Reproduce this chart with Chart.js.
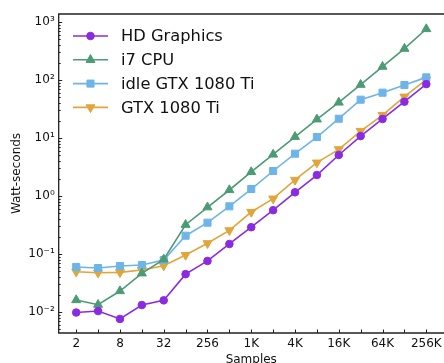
<!DOCTYPE html>
<html>
<head>
<meta charset="utf-8">
<script src="https://cdn.jsdelivr.net/npm/chart.js@4/dist/chart.umd.min.js"></script>
<style>
html,body{margin:0;padding:0;overflow:hidden;background:#fff;width:444px;height:363px;}
#c{display:block;}
</style>
</head>
<body>
<canvas id="c" width="450" height="372" style="width:450px;height:372px"></canvas>
<script>
const xLabels = ['2','4','8','16','32','128','256','512','1K','2K','4K','8K','16K','32K','64K','128K','256K'];
const shownLabels = ['2','8','32','256','1K','4K','16K','64K','256K'];
const hdGraphics = [0.0098, 0.0104, 0.0076, 0.0132, 0.0159, 0.045, 0.076, 0.149, 0.29, 0.57, 1.16, 2.3, 5.1, 10.8, 21.3, 42.3, 85];
const i7CPU = [0.0161, 0.0134, 0.023, 0.0465, 0.081, 0.32, 0.64, 1.27, 2.6, 5.2, 10.5, 21, 41, 83, 170, 347, 757];
const idleGTX = [0.0597, 0.0574, 0.062, 0.0646, 0.0788, 0.207, 0.347, 0.664, 1.32, 2.7, 5.37, 10.4, 21.5, 45.8, 60.5, 82, 111];
const gtx1080 = [0.0496, 0.0476, 0.0483, 0.053, 0.063, 0.096, 0.153, 0.256, 0.53, 0.90, 1.89, 3.76, 6.38, 13.2, 24.9, 51.6, 102];
const seriesNames = ['HD Graphics', 'i7 CPU', 'idle GTX 1080 Ti', 'GTX 1080 Ti'];
const yDecades = [-2, -1, 0, 1, 2, 3];

const FONT = "'DejaVu Sans', sans-serif";
const supMap = {'0':'⁰','1':'¹','2':'²','3':'³','4':'⁴','5':'⁵','6':'⁶','7':'⁷','8':'⁸','9':'⁹','-':'⁻'};
function sup(n){ return String(n).split('').map(c => supMap[c]).join(''); }

function pts(arr){ return arr.map((v,i)=>({x:i, y:v})); }

const styles = [
  {color:'#8a2be2', pointStyle:'circle', r:3.8, rot:0},
  {color:'#4b9b74', pointStyle:'triangle', r:5.2, rot:0},
  {color:'#6db5e8', pointStyle:'rect', r:5, rot:0},
  {color:'#e2a53c', pointStyle:'triangle', r:5.2, rot:180}
];
const allData = [hdGraphics, i7CPU, idleGTX, gtx1080];

const datasets = allData.map((d, k) => ({
  label: seriesNames[k],
  data: pts(d),
  borderColor: styles[k].color,
  backgroundColor: styles[k].color,
  pointBackgroundColor: styles[k].color,
  pointBorderColor: styles[k].color,
  borderWidth: 1.6,
  pointStyle: styles[k].pointStyle,
  pointRadius: styles[k].r,
  pointRotation: styles[k].rot,
  pointBorderWidth: 1,
  tension: 0,
  fill: false
}));

const frameAndTicks = {
  id: 'frameAndTicks',
  afterDraw(chart) {
    const ctx = chart.ctx;
    const a = chart.chartArea;
    const xs = chart.scales.x, ys = chart.scales.y;
    ctx.save();
    ctx.strokeStyle = '#222';
    ctx.lineWidth = 1;
    ctx.beginPath();
    xs.ticks.forEach(t => {
      const px = Math.round(xs.getPixelForValue(t.value)) + 0.5;
      ctx.moveTo(px, a.bottom);
      ctx.lineTo(px, a.bottom - 3.5);
    });
    ys.ticks.forEach(t => {
      const v = t.value;
      const lg = Math.log10(v);
      const major = Math.abs(lg - Math.round(lg)) < 1e-9;
      const py = Math.round(ys.getPixelForValue(v)) + 0.5;
      ctx.moveTo(a.left, py);
      ctx.lineTo(a.left + (major ? 3.5 : 2), py);
    });
    ctx.stroke();
    // frame: left, top, bottom (right spine lies outside the view)
    ctx.lineWidth = 1.3;
    ctx.strokeStyle = '#222';
    ctx.beginPath();
    ctx.moveTo(a.right + 5, a.top);
    ctx.lineTo(a.left, a.top);
    ctx.lineTo(a.left, a.bottom);
    ctx.lineTo(a.right + 5, a.bottom);
    ctx.stroke();
    // legend
    const lx0 = 73, lx1 = 108, tx = 121;
    chart.data.datasets.forEach((ds, k) => {
      const y = 36 + k * 23.8;
      ctx.strokeStyle = ds.borderColor;
      ctx.lineWidth = ds.borderWidth;
      ctx.beginPath();
      ctx.moveTo(lx0, y); ctx.lineTo(lx1, y); ctx.stroke();
      ctx.fillStyle = ds.borderColor;
      ctx.strokeStyle = ds.borderColor;
      ctx.lineWidth = 1;
      const opts = {pointStyle: ds.pointStyle, radius: ds.pointRadius, rotation: ds.pointRotation, borderWidth: 1};
      Chart.helpers.drawPoint(ctx, opts, (lx0 + lx1) / 2, y);
      ctx.fillStyle = '#111';
      ctx.font = '16.3px ' + FONT;
      ctx.textBaseline = 'middle';
      ctx.textAlign = 'left';
      ctx.fillText(ds.label, tx, y + 1);
    });
    ctx.restore();
  }
};

new Chart(document.getElementById('c'), {
  type: 'line',
  data: { datasets },
  options: {
    responsive: false,
    animation: false,
    devicePixelRatio: 1,
    layout: { padding: { left: 0, top: 14, right: 5.4, bottom: 0 } },
    plugins: { legend: { display: false }, tooltip: { enabled: false } },
    scales: {
      x: {
        type: 'linear',
        min: -0.8, max: 16.8,
        afterFit(s) { s.height = 39; },
        afterBuildTicks(s) { s.ticks = xLabels.map((_, i) => ({ value: i })); },
        grid: { display: false, drawTicks: false },
        border: { display: false },
        ticks: {
          autoSkip: false, maxRotation: 0, padding: 4, color: '#111',
          font: { family: FONT, size: 12 },
          callback: (v) => { const l = xLabels[v]; return shownLabels.includes(l) ? l : ''; }
        },
        title: { display: true, text: 'Samples', color: '#111', font: { family: FONT, size: 12 }, padding: { top: 0, bottom: 5 } }
      },
      y: {
        type: 'logarithmic',
        min: 0.00435, max: 1374,
        afterFit(s) { s.width = 58.7; },
        afterBuildTicks(s) {
          const t = [];
          for (let n = -3; n <= 3; n++) for (let k = 1; k <= 9; k++) {
            const v = k * Math.pow(10, n);
            if (v >= s.min && v <= s.max) t.push({ value: v });
          }
          s.ticks = t;
        },
        grid: { display: false, drawTicks: false },
        border: { display: false },
        ticks: {
          autoSkip: false, padding: 4, color: '#111',
          font: { family: FONT, size: 12 },
          callback: (v) => {
            const lg = Math.log10(v);
            const r = Math.round(lg);
            if (Math.abs(lg - r) < 1e-9 && yDecades.includes(r)) return '10' + sup(r);
            return '';
          }
        },
        title: { display: true, text: 'Watt-seconds', color: '#111', font: { family: FONT, size: 12 }, padding: { top: 10, bottom: 0 } }
      }
    }
  },
  plugins: [frameAndTicks]
});
</script>
</body>
</html>
